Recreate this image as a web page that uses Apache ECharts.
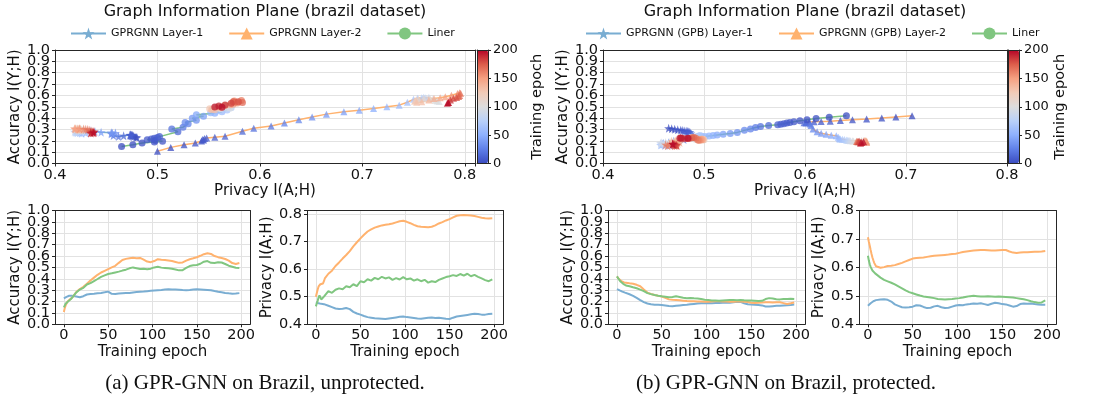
<!DOCTYPE html>
<html><head><meta charset="utf-8">
<script src="https://cdn.jsdelivr.net/npm/echarts@6/dist/echarts.min.js"></script>
<style>html,body{margin:0;padding:0;background:#fff}#c{width:1107px;height:407px}</style>
</head><body><div id="c"></div>
<script>
// ---------- data ----------
const epochs = [0,1,2,3,4,5,6,7,8,9,10, 14,18,22,26,30,34,38,42,46,50, 54,58,62,66,70,74,78,82,86,90,
  94,98,102,106,110,114,118,122,126,130, 134,138,142,146,150,154,158,162,166,170, 174,178,182,186,190,194,198];

// (a) unprotected
const unprotAccLayer1 = [0.228,0.232,0.238,0.241,0.245,0.248,0.251,0.249,0.252,0.250,0.248,
  0.245,0.238,0.247,0.262,0.266,0.268,0.272,0.276,0.281,0.287,
  0.268,0.266,0.270,0.272,0.274,0.276,0.280,0.283,0.286,0.288,
  0.291,0.294,0.297,0.300,0.302,0.305,0.307,0.306,0.305,0.303,
  0.301,0.300,0.302,0.305,0.307,0.306,0.304,0.302,0.299,0.292,
  0.286,0.281,0.276,0.272,0.269,0.270,0.274];
const unprotAccLayer2 = [0.108,0.142,0.166,0.180,0.198,0.206,0.212,0.220,0.225,0.232,0.240,
  0.284,0.310,0.330,0.356,0.385,0.410,0.435,0.455,0.470,0.485,
  0.500,0.514,0.540,0.565,0.575,0.580,0.584,0.580,0.583,0.568,
  0.551,0.546,0.556,0.572,0.568,0.565,0.561,0.556,0.548,0.540,
  0.544,0.560,0.572,0.580,0.589,0.602,0.616,0.624,0.618,0.600,
  0.590,0.582,0.574,0.560,0.538,0.530,0.538];
const unprotAccLiner = [0.149,0.165,0.180,0.190,0.196,0.203,0.210,0.216,0.222,0.230,0.237,
  0.280,0.305,0.320,0.350,0.362,0.380,0.398,0.417,0.430,0.442,
  0.448,0.456,0.463,0.472,0.480,0.492,0.500,0.493,0.486,0.488,
  0.484,0.489,0.500,0.505,0.498,0.495,0.492,0.488,0.482,0.474,
  0.476,0.495,0.512,0.518,0.521,0.532,0.550,0.556,0.540,0.538,
  0.545,0.543,0.530,0.515,0.506,0.497,0.495];
const unprotPrivLayer1 = [0.480,0.479,0.477,0.476,0.475,0.476,0.474,0.475,0.474,0.473,0.474,
  0.467,0.462,0.457,0.455,0.456,0.459,0.455,0.445,0.439,0.435,
  0.430,0.426,0.424,0.422,0.421,0.420,0.419,0.421,0.423,0.425,
  0.427,0.428,0.426,0.425,0.423,0.421,0.420,0.422,0.424,0.425,
  0.423,0.424,0.422,0.420,0.419,0.424,0.428,0.430,0.432,0.434,
  0.436,0.438,0.437,0.435,0.435,0.437,0.438];
const unprotPrivLayer2 = [0.500,0.513,0.526,0.537,0.543,0.545,0.544,0.546,0.548,0.556,0.566,
  0.583,0.594,0.611,0.624,0.638,0.651,0.665,0.682,0.697,0.711,
  0.724,0.736,0.744,0.750,0.754,0.758,0.760,0.762,0.765,0.769,
  0.773,0.775,0.771,0.766,0.760,0.755,0.753,0.752,0.751,0.753,
  0.758,0.765,0.770,0.776,0.781,0.787,0.793,0.795,0.796,0.795,
  0.794,0.792,0.789,0.786,0.784,0.783,0.784];
const unprotPrivLiner = [0.465,0.476,0.485,0.497,0.505,0.498,0.490,0.494,0.497,0.500,0.502,
  0.520,0.514,0.525,0.530,0.527,0.538,0.534,0.545,0.538,0.556,
  0.552,0.563,0.558,0.568,0.563,0.572,0.566,0.570,0.561,0.567,
  0.562,0.571,0.563,0.566,0.558,0.563,0.556,0.561,0.551,0.556,
  0.553,0.561,0.566,0.571,0.574,0.578,0.575,0.582,0.576,0.583,
  0.574,0.579,0.572,0.566,0.560,0.556,0.563];

// (b) protected
const protAccLayer1 = [0.310,0.307,0.302,0.298,0.294,0.290,0.287,0.285,0.282,0.278,0.275,
  0.264,0.250,0.232,0.212,0.195,0.183,0.176,0.172,0.171,0.169,
  0.165,0.160,0.158,0.162,0.166,0.169,0.172,0.176,0.179,0.182,
  0.184,0.186,0.188,0.186,0.188,0.187,0.190,0.192,0.190,0.193,
  0.197,0.198,0.185,0.176,0.174,0.172,0.170,0.166,0.157,0.156,
  0.159,0.162,0.164,0.166,0.168,0.170,0.173];
const protAccLayer2 = [0.421,0.410,0.400,0.392,0.385,0.378,0.373,0.370,0.368,0.366,0.364,
  0.360,0.356,0.347,0.334,0.305,0.279,0.266,0.257,0.250,0.244,
  0.232,0.219,0.215,0.213,0.211,0.208,0.205,0.203,0.202,0.201,
  0.200,0.199,0.198,0.200,0.202,0.203,0.201,0.200,0.198,0.199,
  0.201,0.200,0.199,0.196,0.190,0.187,0.189,0.192,0.193,0.194,
  0.192,0.193,0.193,0.186,0.179,0.185,0.192];
const protAccLiner = [0.421,0.408,0.396,0.385,0.376,0.368,0.362,0.356,0.351,0.345,0.341,
  0.334,0.325,0.317,0.305,0.292,0.274,0.265,0.257,0.251,0.246,
  0.242,0.238,0.240,0.246,0.240,0.234,0.229,0.232,0.228,0.227,
  0.222,0.215,0.213,0.210,0.209,0.207,0.210,0.212,0.213,0.214,
  0.212,0.213,0.211,0.210,0.209,0.207,0.205,0.206,0.222,0.230,
  0.226,0.220,0.219,0.223,0.222,0.224,0.222];
const protPrivLayer1 = [0.465,0.468,0.471,0.474,0.477,0.479,0.481,0.483,0.484,0.485,0.486,
  0.487,0.488,0.486,0.480,0.470,0.465,0.460,0.459,0.460,0.462,
  0.467,0.466,0.461,0.457,0.458,0.463,0.465,0.460,0.457,0.458,
  0.462,0.466,0.468,0.467,0.470,0.471,0.473,0.472,0.474,0.471,
  0.468,0.472,0.476,0.474,0.471,0.470,0.466,0.462,0.464,0.471,
  0.473,0.472,0.473,0.471,0.470,0.469,0.469];
const protPrivLayer2 = [0.706,0.690,0.676,0.661,0.647,0.635,0.625,0.616,0.609,0.604,0.601,
  0.599,0.601,0.605,0.606,0.608,0.612,0.616,0.621,0.626,0.631,
  0.633,0.634,0.635,0.637,0.639,0.641,0.642,0.643,0.644,0.645,
  0.647,0.648,0.651,0.654,0.656,0.658,0.659,0.660,0.661,0.661,
  0.660,0.659,0.659,0.660,0.661,0.661,0.656,0.652,0.651,0.652,
  0.653,0.653,0.654,0.655,0.655,0.656,0.658];
const protPrivLiner = [0.641,0.624,0.611,0.602,0.595,0.589,0.585,0.582,0.579,0.576,0.573,
  0.564,0.556,0.551,0.546,0.540,0.533,0.526,0.519,0.513,0.509,
  0.505,0.501,0.498,0.496,0.494,0.492,0.489,0.488,0.487,0.488,
  0.489,0.491,0.492,0.494,0.497,0.499,0.500,0.499,0.498,0.498,
  0.499,0.498,0.497,0.498,0.497,0.496,0.495,0.494,0.492,0.490,
  0.488,0.485,0.481,0.478,0.476,0.477,0.484];

const namesUnprot = ['GPRGNN Layer-1','GPRGNN Layer-2','Liner'];
const namesProt = ['GPRGNN (GPB) Layer-1','GPRGNN (GPB) Layer-2','Liner'];
const planeTitle = 'Graph Information Plane (brazil dataset)';
const captionA = '(a) GPR-GNN on Brazil, unprotected.';
const captionB = '(b) GPR-GNN on Brazil, protected.';
const colorbarTicks = [0, 200, 50];   // min, max, step
const epochTicks = [0, 200, 50];

// ---------- styling ----------
const FONT = 'DejaVu Sans', INK = '#111', SPINE = '#262626', GRIDC = '#e2e2e2';
const COLORS = ['#79add2', '#ffb26e', '#80c680'];
const coolwarm = ['#3b4cc0','#5f7fe8','#8db0fe','#b9d0f9','#dddddd','#f2cbb7','#f5a081','#dc5d4a','#b40426'];
const STAR = 'path://M50,0L61.8,35.1L97.6,34.5L69.1,56.7L79.4,90.5L50,70L20.6,90.5L30.9,56.7L2.4,34.5L38.2,35.1Z';
const SYMBOLS = [STAR, 'triangle', 'circle'];
const SYMSIZE = [9, 7, 7];

function fmt1(v) { const r = Math.round(v * 10); return Math.abs(v * 10 - r) < 1e-6 ? (r / 10).toFixed(1) : ''; }
// dense 0.0..1.0 labels are split over two axes (even / odd tenths) so none gets hidden
function fmtParity(p) { return (v) => { const r = Math.round(v * 10); return (Math.abs(v * 10 - r) < 1e-6 && r % 2 === p) ? (r / 10).toFixed(1) : ''; }; }
const txt = (size) => ({ fontFamily: FONT, fontSize: size, color: INK });

const grid = [], xAxis = [], yAxis = [], series = [], visualMap = [];
const pushX = (o) => { xAxis.push(o); return xAxis.length - 1; };
const pushY = (o) => { yAxis.push(o); return yAxis.length - 1; };
function addGrid(g) { grid.push(Object.assign({ show: false }, g)); return grid.length - 1; }

const LINE = { show: true, onZero: false, lineStyle: { color: SPINE, width: 1 } };
function spine(gi, pos, min, max) {
  return { gridIndex: gi, type: 'value', position: pos, min, max, z: 10,
    axisLine: LINE, axisTick: { show: false }, axisLabel: { show: false }, splitLine: { show: false } };
}
function mainAxis(gi, pos, o) {
  return Object.assign({
    gridIndex: gi, type: 'value', position: pos,
    axisLine: LINE,
    axisTick: { show: true, length: 3, lineStyle: { color: SPINE } },
    splitLine: { show: true, showMinLine: false, showMaxLine: false, lineStyle: { color: GRIDC, width: 1 } },
    nameLocation: 'middle', nameTextStyle: txt(15)
  }, o);
}
const LBL = { margin: 5, showMinLabel: true, showMaxLabel: true, hideOverlap: false, ...txt(14.5) };
// y axis on a 0..1 range: main axis (even labels) + label-only axis (odd labels)
function denseY(gi, name, gap) {
  const yi = pushY(mainAxis(gi, 'left', { min: 0, max: 1, interval: 0.1,
    axisLabel: { ...LBL, formatter: fmtParity(0) }, name, nameGap: gap }));
  pushY({ gridIndex: gi, type: 'value', position: 'left', min: 0, max: 1, interval: 0.1,
    axisLine: { show: false }, axisTick: { show: false }, splitLine: { show: false },
    axisLabel: { ...LBL, formatter: fmtParity(1) } });
  return yi;
}

function addPlane(L, T, W, H, xmax, cbLeft, cbGap, acc, priv, names, yGap) {
  const gi = addGrid({ left: L, top: T, width: W, height: H });
  const xi = pushX(mainAxis(gi, 'bottom', { min: 0.4, max: xmax, interval: 0.1,
    axisLabel: { formatter: fmt1, margin: 4, showMinLabel: true, ...txt(14.5) }, name: 'Privacy I(A;H)', nameGap: 20 }));
  pushX(spine(gi, 'top', 0.4, xmax));
  const yi = denseY(gi, 'Accuracy I(Y;H)', yGap);
  pushY(spine(gi, 'right', 0, 1));
  // colorbar frame + axis
  const ci = addGrid({ left: cbLeft, top: T, width: 11, height: H });
  pushX(spine(ci, 'bottom', 0, 1));
  pushX(spine(ci, 'top', 0, 1));
  pushY(spine(ci, 'left', colorbarTicks[0], colorbarTicks[1]));
  pushY({ gridIndex: ci, type: 'value', position: 'right', min: colorbarTicks[0], max: colorbarTicks[1], interval: colorbarTicks[2], z: 10,
    axisLine: LINE, splitLine: { show: false },
    axisTick: { show: true, length: 3, lineStyle: { color: SPINE } },
    axisLabel: { margin: 5, showMinLabel: true, showMaxLabel: true, ...txt(13) },
    name: 'Training epoch', nameLocation: 'middle', nameRotate: 90, nameGap: cbGap, nameTextStyle: txt(14.5) });
  const scatterIdx = [];
  for (let k = 0; k < 3; k++) {
    series.push({ type: 'line', name: names[k], xAxisIndex: xi, yAxisIndex: yi,
      data: epochs.map((e, i) => [priv[k][i], acc[k][i]]),
      symbol: SYMBOLS[k], showSymbol: false, color: COLORS[k],
      lineStyle: { width: 1.5, color: COLORS[k] }, itemStyle: { color: COLORS[k] }, z: 2, silent: true });
    scatterIdx.push(series.length);
    series.push({ type: 'scatter', name: 'pts ' + names[k], xAxisIndex: xi, yAxisIndex: yi,
      data: epochs.map((e, i) => [priv[k][i], acc[k][i], e]),
      symbol: SYMBOLS[k], symbolSize: SYMSIZE[k], itemStyle: { opacity: 0.75 }, z: 3, silent: true });
  }
  visualMap.push({ type: 'continuous', min: colorbarTicks[0], max: colorbarTicks[1], dimension: 2, seriesIndex: scatterIdx,
    inRange: { color: coolwarm }, left: cbLeft, top: T, itemWidth: 11, itemHeight: H, calculable: false,
    padding: 0, hoverLink: false, orient: 'vertical', text: null, z: 4 });
}

function addSeriesPlot(L, T, W, H, ymin, ymax, yName, yGap, vals) {
  const fi = addGrid({ left: L, top: T, width: W, height: H });
  pushX(Object.assign(spine(fi, 'bottom', -10, 210), { z: 0 }));
  pushX(spine(fi, 'top', -10, 210));
  if (ymin === 0 && ymax === 1) {
    denseY(fi, yName, yGap);
  } else {
    pushY(mainAxis(fi, 'left', { min: ymin, max: ymax, interval: 0.1,
      axisLabel: { ...LBL, formatter: fmt1 }, name: yName, nameGap: yGap }));
  }
  pushY(spine(fi, 'right', ymin, ymax));
  const di = addGrid({ left: L + W * 10 / 220, top: T, width: W * 200 / 220, height: H });
  const xi = pushX(mainAxis(di, 'bottom', { min: epochTicks[0], max: epochTicks[1], interval: epochTicks[2],
    axisLine: { show: false },
    splitLine: { show: true, lineStyle: { color: GRIDC, width: 1 } },
    axisLabel: { margin: 3, showMinLabel: true, showMaxLabel: true, ...txt(14.5) }, name: 'Training epoch', nameGap: 20 }));
  const yi = pushY({ gridIndex: di, type: 'value', show: false, min: ymin, max: ymax });
  for (let k = 0; k < 3; k++) {
    series.push({ type: 'line', name: 'curve ' + yName + k + L, xAxisIndex: xi, yAxisIndex: yi,
      data: epochs.map((e, i) => [e, vals[k][i]]), showSymbol: false, symbol: 'none',
      lineStyle: { width: 2, color: COLORS[k] }, z: 2, silent: true });
  }
}

addPlane(55, 50, 420, 113.5, 0.81, 477, 42,
  [unprotAccLayer1, unprotAccLayer2, unprotAccLiner], [unprotPrivLayer1, unprotPrivLayer2, unprotPrivLiner], namesUnprot, 31);
addPlane(603, 50, 404, 113.5, 0.8, 1008, 25,
  [protAccLayer1, protAccLayer2, protAccLiner], [protPrivLayer1, protPrivLayer2, protPrivLiner], namesProt, 27);

addSeriesPlot(55, 210.5, 195, 113.8, 0, 1, 'Accuracy I(Y;H)', 31, [unprotAccLayer1, unprotAccLayer2, unprotAccLiner]);
addSeriesPlot(307, 210.5, 196, 113.8, 0.4, 0.812, 'Privacy I(A;H)', 31, [unprotPrivLayer1, unprotPrivLayer2, unprotPrivLiner]);
addSeriesPlot(608, 210.5, 197, 113.8, 0, 1, 'Accuracy I(Y;H)', 31, [protAccLayer1, protAccLayer2, protAccLiner]);
addSeriesPlot(859, 210.5, 197, 113.8, 0.4, 0.8, 'Privacy I(A;H)', 31, [protPrivLayer1, protPrivLayer2, protPrivLiner]);

const legendBase = { top: 27.5, itemWidth: 35, itemHeight: 15, itemGap: 25, padding: 0, selectedMode: false, textStyle: txt(11) };

const chart = echarts.init(document.getElementById('c'), null, { renderer: 'canvas', width: 1107, height: 407 });
chart.setOption({
  animation: false,
  backgroundColor: '#fff',
  title: [
    { text: planeTitle, left: 265, top: 4, textAlign: 'center', padding: 0, textStyle: { ...txt(16), fontWeight: 'normal' } },
    { text: planeTitle, left: 805, top: 4, textAlign: 'center', padding: 0, textStyle: { ...txt(16), fontWeight: 'normal' } },
    { text: captionA, left: 265, top: 373, textAlign: 'center', padding: 0, textStyle: { fontFamily: 'Liberation Serif', fontSize: 21, fontWeight: 'normal', color: INK } },
    { text: captionB, left: 786, top: 373, textAlign: 'center', padding: 0, textStyle: { fontFamily: 'Liberation Serif', fontSize: 21, fontWeight: 'normal', color: INK } }
  ],
  legend: [
    Object.assign({ data: namesUnprot, left: 70 }, legendBase),
    Object.assign({ data: namesProt, left: 585 }, legendBase)
  ],
  grid, xAxis, yAxis, series, visualMap
});
</script></body></html>
